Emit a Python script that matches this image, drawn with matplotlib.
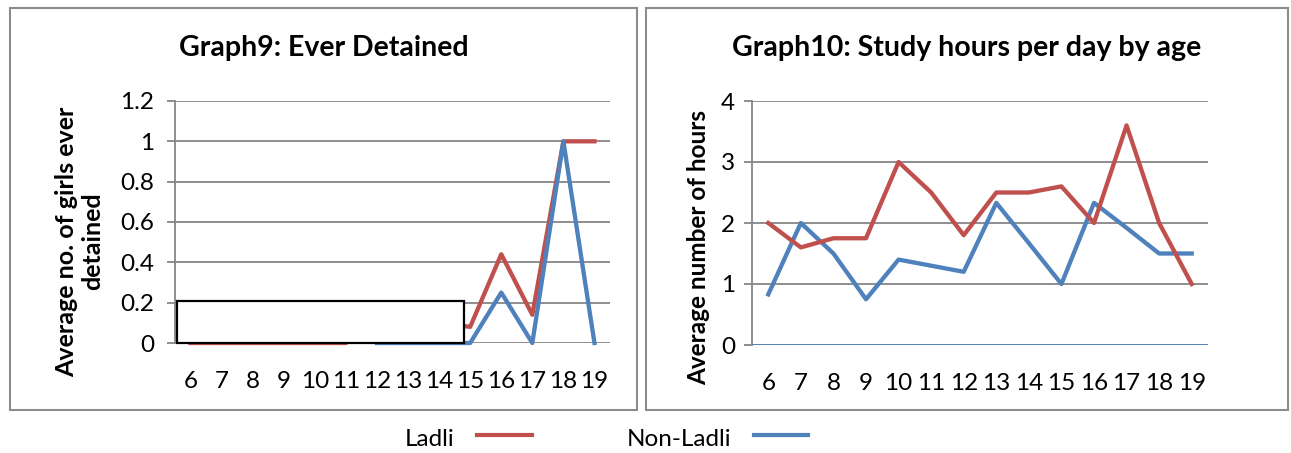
import numpy as np
import matplotlib.pyplot as plt
from matplotlib.patches import Rectangle
from matplotlib.lines import Line2D

plt.rcParams['font.family'] = ['Lato', 'DejaVu Sans']

ages = [6, 7, 8, 9, 10, 11, 12, 13, 14, 15, 16, 17, 18, 19]

# Graph9: average number of girls ever detained
detained_ladli = [0, 0, 0, 0, 0, 0, 0.1, 0, 0.1, 0.08, 0.44, 0.14, 1, 1]
detained_non_ladli = [np.nan] * 6 + [0, 0, 0, 0, 0.25, 0, 1, 0]

# Graph10: study hours per day
hours_ladli = [2, 1.6, 1.75, 1.75, 3, 2.5, 1.8, 2.5, 2.5, 2.6, 2, 3.6, 2, 1]
hours_non_ladli = [0.83, 2, 1.5, 0.75, 1.4, 1.3, 1.2, 2.33, 1.67, 1, 2.33, 1.92, 1.5, 1.5]

RED = '#C0504D'
BLUE = '#4F81BD'
GRID = '#868686'
LW = 3.1

W, H = 1291, 453
fig = plt.figure(figsize=(W / 100, H / 100), dpi=100)


def px(x0, y0, x1, y1):
    # pixel box (top-left origin) -> figure fraction rect
    return [x0 / W, 1 - y1 / H, (x1 - x0) / W, (y1 - y0) / H]


def style(ax, ymax, step):
    ax.set_xlim(5.5, 19.5)
    ax.set_ylim(0, ymax)
    ax.set_xticks(ages)
    ax.set_xticklabels([str(a) for a in ages])
    ax.set_yticks(np.arange(0, ymax + step / 2, step))
    ax.yaxis.grid(True, color=GRID, linewidth=1.3)
    ax.set_axisbelow(True)
    for s in ['top', 'right', 'bottom']:
        ax.spines[s].set_visible(False)
    ax.spines['left'].set_color(GRID)
    ax.spines['left'].set_linewidth(1.3)
    ax.tick_params(axis='x', length=0, labelsize=17.5, pad=20)
    ax.tick_params(axis='y', length=6, width=1.3, color=GRID, labelsize=17.5, pad=9)


# panel frames
panels = [(10, 8, 637, 410), (646, 8, 1288, 410)]
for x0, y0, x1, y1 in panels:
    fig.patches.append(Rectangle((x0 / W, 1 - y1 / H), (x1 - x0) / W, (y1 - y0) / H,
                                 transform=fig.transFigure, fill=False,
                                 edgecolor='#8c8c8c', linewidth=1.5))

# left chart
ax1 = fig.add_axes(px(175, 101, 610, 343))
ax1.plot(ages, detained_non_ladli, color=BLUE, linewidth=LW, clip_on=False, zorder=3)
ax1.plot(ages, detained_ladli, color=RED, linewidth=LW, clip_on=False, zorder=2)
style(ax1, 1.2, 0.2)
ax1.set_yticklabels(['0', '0.2', '0.4', '0.6', '0.8', '1', '1.2'])
ax1.set_ylabel('Average no. of girls ever\ndetained', fontsize=18, fontweight='bold',
               linespacing=1.15)
ax1.yaxis.set_label_coords(-0.163, 0.42)
ax1.add_patch(Rectangle((0.004, 0.0), 0.66, 0.175, transform=ax1.transAxes,
                        facecolor='white', edgecolor='black', linewidth=1.6,
                        zorder=5, clip_on=False))

# right chart
ax2 = fig.add_axes(px(752, 101, 1208, 345))
ax2.plot(ages, hours_non_ladli, color=BLUE, linewidth=LW, zorder=3)
ax2.plot(ages, hours_ladli, color=RED, linewidth=LW, zorder=4)
style(ax2, 4, 1)
ax2.tick_params(axis='y', pad=6)
ax2.axhline(0, color=BLUE, linewidth=1.3, zorder=2)
ax2.set_ylabel('Average number of hours', fontsize=17.5, fontweight='bold')
ax2.yaxis.set_label_coords(-0.092, 0.40)

# titles centred on their panels
titles = ['Graph9: Ever Detained', 'Graph10: Study hours per day by age']
for (x0, y0, x1, y1), t in zip(panels, titles):
    fig.text((x0 + x1) / 2 / W, 1 - 48 / H, t, fontsize=20.5, fontweight='bold',
             ha='center', va='center')

# legend below panels
fig.text(405 / W, 1 - 440 / H, 'Ladli', fontsize=17.5, va='center', ha='left')
fig.add_artist(Line2D([477 / W, 532 / W], [1 - 435 / H] * 2, color=RED, linewidth=3,
                      transform=fig.transFigure))
fig.text(627 / W, 1 - 440 / H, 'Non-Ladli', fontsize=17.5, va='center', ha='left')
fig.add_artist(Line2D([754 / W, 808 / W], [1 - 435 / H] * 2, color=BLUE, linewidth=3,
                      transform=fig.transFigure))

fig.savefig('out.png', dpi=100)
